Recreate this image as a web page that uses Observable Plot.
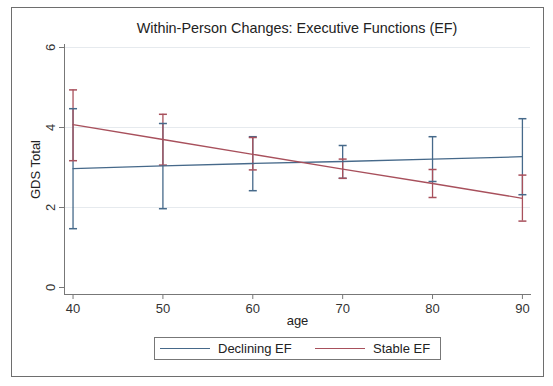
<!DOCTYPE html>
<html>
<head>
<meta charset="utf-8">
<script src="https://cdn.jsdelivr.net/npm/d3@7"></script>
<script src="https://cdn.jsdelivr.net/npm/@observablehq/plot@0.6"></script>
<style>
  html, body { margin: 0; padding: 0; background: #fff; }
  body { width: 553px; height: 386px; position: relative; overflow: hidden;
         font-family: "Liberation Sans", Arial, sans-serif; color: #222; }
  #frame { position: absolute; left: 11px; top: 7px; width: 533px; height: 370px;
           border: 1px solid #6e6e6e; box-sizing: border-box; }
  #title { position: absolute; left: 64px; width: 466px; top: 20px; text-align: center;
           font-size: 14.4px; color: #222; }
  #chart { position: absolute; left: 0; top: 40px; }
  #legend { position: absolute; left: 154px; top: 337px; width: 287px; height: 23px;
            border: 1px solid #777; box-sizing: border-box; font-size: 13px; }
  .item { position: absolute; top: 0; height: 21px; line-height: 21px; }
  .sw { position: absolute; top: 10px; height: 0; border-top: 1.4px solid; }
</style>
</head>
<body>
<div id="frame"></div>
<div id="title">Within-Person Changes: Executive Functions (EF)</div>
<div id="chart"></div>
<div id="legend"></div>
<script>
// ---- data ----
const ages = [40, 50, 60, 70, 80, 90];
const seriesNames = ["Declining EF", "Stable EF"];
const decliningMean = [2.97, 3.04, 3.10, 3.15, 3.21, 3.27];
const decliningLow  = [1.47, 1.97, 2.42, 2.73, 2.65, 2.32];
const decliningHigh = [4.47, 4.10, 3.77, 3.55, 3.77, 4.22];
const stableMean = [4.07, 3.70, 3.33, 2.96, 2.60, 2.23];
const stableLow  = [3.17, 3.06, 2.94, 2.73, 2.25, 1.66];
const stableHigh = [4.94, 4.33, 3.75, 3.21, 2.95, 2.81];
const yTicks = [0, 2, 4, 6];
const xTicks = [40, 50, 60, 70, 80, 90];
const colors = ["#46698a", "#a8505c"];

const rows = [];
ages.forEach((a, i) => {
  rows.push({series: seriesNames[0], age: a, mean: decliningMean[i], lo: decliningLow[i], hi: decliningHigh[i]});
  rows.push({series: seriesNames[1], age: a, mean: stableMean[i], lo: stableLow[i], hi: stableHigh[i]});
});
const caps = rows.flatMap(d => [{series: d.series, age: d.age, v: d.lo}, {series: d.series, age: d.age, v: d.hi}]);

const capSymbol = {
  draw(context, size) {
    const w = Math.sqrt(size / Math.PI);
    context.moveTo(-w, 0);
    context.lineTo(w, 0);
  }
};

const chart = Plot.plot({
  width: 553,
  height: 290,
  marginLeft: 64,
  marginRight: 23,
  marginTop: 4,
  marginBottom: 36,
  style: {fontFamily: "'Liberation Sans', Arial, sans-serif", fontSize: "13px", color: "#222", background: "transparent"},
  x: {domain: [39.05, 90.9], label: null},
  y: {domain: [-0.175, 6.075], label: null},
  color: {domain: seriesNames, range: colors},
  marks: [
    Plot.gridY(yTicks.filter(t => t > 0), {stroke: "#e6eaee", strokeOpacity: 1, strokeWidth: 1}),
    Plot.ruleX(rows, {x: "age", y1: "lo", y2: "hi", stroke: "series", strokeWidth: 1.3}),
    Plot.dot(caps, {x: "age", y: "v", stroke: "series", symbol: capSymbol, r: 4, strokeWidth: 1.5, fill: "none"}),
    Plot.line(rows, {x: "age", y: "mean", z: "series", stroke: "series", strokeWidth: 1.3}),
    Plot.axisY({ticks: yTicks, tickFormat: d3.format("d"), tickSize: 5, tickPadding: 5, tickRotate: -90, stroke: "#777", color: "#333", fontSize: 13, label: null}),
    Plot.axisX({ticks: xTicks, tickFormat: d3.format("d"), tickSize: 5, tickPadding: 4, stroke: "#777", color: "#333", fontSize: 13, label: null}),
    Plot.frame({anchor: "left", stroke: "#777"}),
    Plot.frame({anchor: "bottom", stroke: "#777"}),
    Plot.text(["age"], {frameAnchor: "bottom", dy: 30, fontSize: 13, fill: "#222"}),
    Plot.text(["GDS Total"], {frameAnchor: "left", textAnchor: "middle", dx: -29, rotate: -90, fontSize: 13, fill: "#222"})
  ]
});
document.getElementById("chart").appendChild(chart);

// legend
const legend = document.getElementById("legend");
const items = [
  {name: seriesNames[0], color: colors[0], sx: 5, tx: 63},
  {name: seriesNames[1], color: colors[1], sx: 160, tx: 218}
];
items.forEach(it => {
  const sw = document.createElement("div");
  sw.className = "sw";
  sw.style.left = it.sx + "px";
  sw.style.width = "50px";
  sw.style.borderTopColor = it.color;
  legend.appendChild(sw);
  const t = document.createElement("div");
  t.className = "item";
  t.style.left = it.tx + "px";
  t.textContent = it.name;
  legend.appendChild(t);
});
</script>
</body>
</html>
